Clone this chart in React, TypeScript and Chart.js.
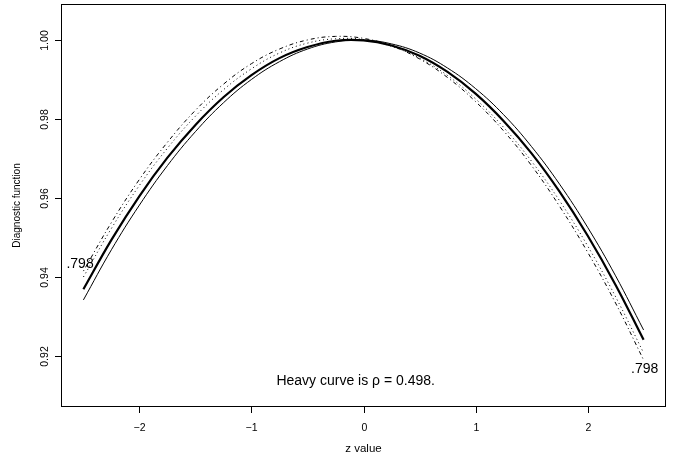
import React, { useEffect, useRef } from "react";
import { Chart, registerables } from "chart.js";

Chart.register(...registerables);

const zValues = [-2.5, -2.25, -2, -1.75, -1.5, -1.25, -1, -0.75, -0.5, -0.25, 0, 0.25, 0.5, 0.75, 1, 1.25, 1.5, 1.75, 2, 2.25, 2.5];

const heavyCurve = [0.9369, 0.9494, 0.9605, 0.9702, 0.9785, 0.9855, 0.9911, 0.9954, 0.9982, 0.9998, 0.9999, 0.9986, 0.996, 0.9919, 0.9864, 0.9795, 0.9713, 0.9616, 0.9505, 0.938, 0.9241];
const thinCurve = [0.9342, 0.9469, 0.9582, 0.9682, 0.9768, 0.9841, 0.99, 0.9945, 0.9977, 0.9995, 1.0, 0.999, 0.9967, 0.9929, 0.9877, 0.9811, 0.973, 0.9635, 0.9526, 0.9403, 0.9266];
const dottedCurve = [0.94, 0.9523, 0.9632, 0.9726, 0.9807, 0.9874, 0.9927, 0.9967, 0.9992, 1.0003, 1.0001, 0.9984, 0.9954, 0.991, 0.9851, 0.9779, 0.9693, 0.9593, 0.9479, 0.935, 0.9208];
const dashDotCurve = [0.9415, 0.9538, 0.9647, 0.9741, 0.9822, 0.9888, 0.994, 0.9977, 1.0, 1.0009, 1.0004, 0.9985, 0.9952, 0.9905, 0.9844, 0.977, 0.9682, 0.9579, 0.9463, 0.9334, 0.919];

const xTicks = [-2, -1, 0, 1, 2];
const xTickLabels = ["\u22122", "\u22121", "0", "1", "2"];
const yTicks = [0.92, 0.94, 0.96, 0.98, 1.0];
const yTickLabels = ["0.92", "0.94", "0.96", "0.98", "1.00"];

const xTitle = "z value";
const yTitle = "Diagnostic function";
const annotationText = "Heavy curve is \u03c1 = 0.498.";
const endLabel = ".798";
const annotationPos = { x: -0.07, y: 0.9137 };
const leftLabelPos = { x: -2.53, y: 0.9433 };
const rightLabelPos = { x: 2.51, y: 0.9167 };

const FONT = '"Liberation Sans", Arial, Helvetica, sans-serif';

const pts = (vals: number[]) => zValues.map((z, i) => ({ x: z, y: vals[i] }));

const rAxesPlugin = {
  id: "rAxes",
  afterDraw(chart: any) {
    const ctx = chart.ctx as CanvasRenderingContext2D;
    const { left, right, top, bottom } = chart.chartArea;
    const xs = chart.scales.x;
    const ys = chart.scales.y;
    ctx.save();
    ctx.strokeStyle = "#000";
    ctx.lineWidth = 1;
    ctx.strokeRect(Math.round(left) + 0.5, Math.round(top) + 0.5, Math.round(right - left) - 1, Math.round(bottom - top) - 1);

    ctx.fillStyle = "#000";
    ctx.font = `10.5px ${FONT}`;
    // x ticks
    ctx.textAlign = "center";
    ctx.textBaseline = "middle";
    xTicks.forEach((v, i) => {
      const px = Math.round(xs.getPixelForValue(v)) + 0.5;
      ctx.beginPath();
      ctx.moveTo(px, bottom);
      ctx.lineTo(px, bottom + 6);
      ctx.stroke();
      ctx.fillText(xTickLabels[i], px, bottom + 21);
    });
    // y ticks
    yTicks.forEach((v, i) => {
      const py = Math.round(ys.getPixelForValue(v)) + 0.5;
      ctx.beginPath();
      ctx.moveTo(left - 6, py);
      ctx.lineTo(left, py);
      ctx.stroke();
      ctx.save();
      ctx.translate(left - 16, py);
      ctx.rotate(-Math.PI / 2);
      ctx.fillText(yTickLabels[i], 0, 0);
      ctx.restore();
    });
    // titles
    ctx.font = `11.5px ${FONT}`;
    ctx.fillText(xTitle, (left + right) / 2, bottom + 42);
    ctx.save();
    ctx.font = `10px ${FONT}`;
    ctx.translate(17, (top + bottom) / 2);
    ctx.rotate(-Math.PI / 2);
    ctx.fillText(yTitle, 0, 0);
    ctx.restore();

    // annotations
    ctx.font = `14px ${FONT}`;
    ctx.fillText(annotationText, xs.getPixelForValue(annotationPos.x), ys.getPixelForValue(annotationPos.y));
    ctx.fillText(endLabel, xs.getPixelForValue(leftLabelPos.x), ys.getPixelForValue(leftLabelPos.y));
    ctx.fillText(endLabel, xs.getPixelForValue(rightLabelPos.x), ys.getPixelForValue(rightLabelPos.y));
    ctx.restore();
  },
};

export default function App() {
  const ref = useRef<HTMLCanvasElement | null>(null);
  useEffect(() => {
    document.body.style.margin = "0";
    const canvas = ref.current!;
    const chart = new Chart(canvas, {
      type: "line",
      data: {
        datasets: [
          { data: pts(thinCurve), borderColor: "#000", borderWidth: 1, pointRadius: 0, tension: 0.4, fill: false },
          { data: pts(dottedCurve), borderColor: "#000", borderWidth: 1, borderDash: [1, 3], pointRadius: 0, tension: 0.4, fill: false },
          { data: pts(dashDotCurve), borderColor: "#000", borderWidth: 1, borderDash: [1, 3, 4, 3], pointRadius: 0, tension: 0.4, fill: false },
          { data: pts(heavyCurve), borderColor: "#000", borderWidth: 2.2, pointRadius: 0, tension: 0.4, fill: false },
        ],
      },
      options: {
        responsive: false,
        animation: false,
        parsing: true,
        layout: { padding: { left: 61, right: 7, top: 4, bottom: 54 } },
        plugins: { legend: { display: false }, tooltip: { enabled: false } },
        scales: {
          x: { type: "linear", min: -2.7, max: 2.7, display: false },
          y: { type: "linear", min: 0.9071, max: 1.0091, display: false },
        },
      },
      plugins: [rAxesPlugin],
    });
    return () => chart.destroy();
  }, []);
  return <canvas ref={ref} width={673} height={461} style={{ display: "block" }} />;
}
